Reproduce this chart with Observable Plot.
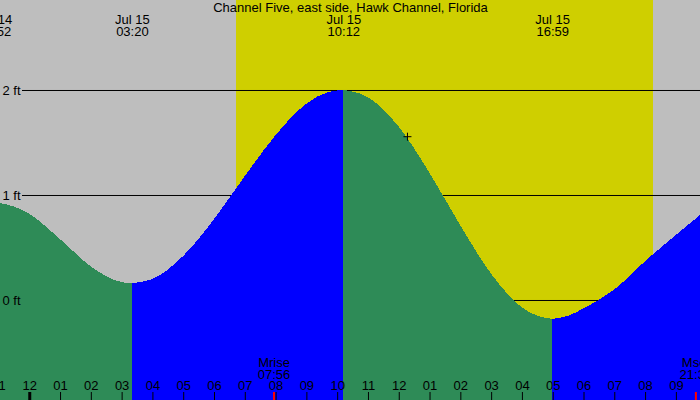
<!DOCTYPE html>
<html>
<head>
<meta charset="utf-8">
<script src="https://cdn.jsdelivr.net/npm/d3@7"></script>
<script src="https://cdn.jsdelivr.net/npm/@observablehq/plot@0.6"></script>
<style>
  html, body { margin: 0; padding: 0; background: #bebebe; }
  #chart svg { display: block; }
</style>
</head>
<body>
<div id="chart"></div>
<script>
// Tide graph for one station, Jul 14 23:03 – Jul 15 21:47
const stationName = "Channel Five, east side, Hawk Channel, Florida";

// High and low water events
const extremeDays = ["Jul 14", "Jul 15", "Jul 15", "Jul 15"];
const extremeTimes = ["22:52", "03:20", "10:12", "16:59"];
const extremeLevels = [0.93, 0.16, 2.0, -0.18];

// Water level (ft) between the events, hours after midnight Jul 15
const sampleHours = [-0.5, 0, 1, 2, 3, 4, 5, 6, 7, 8, 9, 9.7, 10.7, 11, 12, 13, 14, 15, 16, 16.5, 17.5, 18, 19, 20, 21, 22];
const sampleLevels = [0.89, 0.82, 0.58, 0.32, 0.17, 0.20, 0.42, 0.77, 1.18, 1.57, 1.87, 1.98, 1.97, 1.93, 1.65, 1.21, 0.71, 0.25, -0.07, -0.15, -0.15, -0.08, 0.10, 0.37, 0.62, 0.86];

// Sun and moon
const sunrise = "06:43";
const sunset = "20:15";
const moonNames = ["Mrise", "Mset"];
const moonTimes = ["07:56", "21:38"];

// Current time marker
const nowTime = "12:16";
const nowLevel = 1.56;

// Axes
const levelTicks = [0, 1, 2];
const hourTicks = [-1, 0, 1, 2, 3, 4, 5, 6, 7, 8, 9, 10, 11, 12, 13, 14, 15, 16, 17, 18, 19, 20, 21];
const hourLabels = ["11", "12", "01", "02", "03", "04", "05", "06", "07", "08", "09", "10", "11", "12", "01", "02", "03", "04", "05", "06", "07", "08", "09"];
const windowStart = ["Jul 14", "23:03"];
const windowEnd = ["Jul 15", "21:47"];
const levelDomain = [-0.9524, 2.8571];

const colors = {
  background: "#bebebe",
  daylight: "#cfcf00",
  rising: "#0000ff",
  falling: "#2e8b57",
  moon: "#ff0000"
};

// Hours relative to midnight at the start of Jul 15
function hoursOf(day, time) {
  const [h, m] = time.split(":").map(Number);
  return (day === "Jul 14" ? -24 : 0) + h + m / 60;
}

const extremes = extremeDays.map((d, i) => ({
  h: hoursOf(d, extremeTimes[i]),
  level: extremeLevels[i],
  day: d,
  time: extremeTimes[i]
}));
const samples = sampleHours.map((h, i) => ({h, level: sampleLevels[i]}));

// Split the water into rising (flood) and falling (ebb) stretches between extremes
const water = [];
extremes.forEach((a, s) => {
  const b = extremes[s + 1];
  const end = b ? b.h : Infinity;
  const rising = b ? b.level > a.level : a.level < extremes[s - 1].level;
  const fill = rising ? colors.rising : colors.falling;
  water.push({h: a.h, level: a.level, segment: s, water: fill});
  for (const p of samples) if (p.h > a.h && p.h < end) water.push({...p, segment: s, water: fill});
  if (b) water.push({h: b.h, level: b.level, segment: s, water: fill});
});

const hours = hourTicks.map((h, i) => ({h, label: hourLabels[i]}));
const moon = moonNames.map((name, i) => ({name, time: moonTimes[i], h: hoursOf("Jul 15", moonTimes[i])}));
const daylight = [{start: hoursOf("Jul 15", sunrise), end: hoursOf("Jul 15", sunset)}];
const now = [{h: hoursOf("Jul 15", nowTime), level: nowLevel}];

const label = {lineAnchor: "middle"};

const chart = Plot.plot({
  width: 700,
  height: 400,
  margin: 0,
  x: {domain: [hoursOf(...windowStart), hoursOf(...windowEnd)], axis: null},
  y: {domain: levelDomain, axis: null},
  color: {type: "identity"},
  style: {
    background: colors.background,
    fontFamily: "'Liberation Sans', Arial, sans-serif",
    fontSize: "13px",
    color: "black"
  },
  marks: [
    // daylight band
    Plot.rect(daylight, {x1: "start", x2: "end", fill: colors.daylight, shapeRendering: "crispEdges"}),
    // level grid lines (behind the water)
    Plot.ruleY(levelTicks, {y: d => d, stroke: "black", insetLeft: 22}),
    // water
    Plot.areaY(water, {
      x: "h", y1: levelDomain[0], y2: "level", z: "segment", fill: "water",
      curve: "monotone-x", clip: true, shapeRendering: "crispEdges"
    }),
    // level labels
    Plot.text(levelTicks, {...label, y: d => d, text: d => `${d} ft`, frameAnchor: "left", textAnchor: "start", dx: 2, dy: 0.5}),
    // title
    Plot.text([stationName], {...label, text: d => d, frameAnchor: "top", dy: 7.3}),
    // high / low water labels
    Plot.text(extremes, {...label, x: "h", text: "day", frameAnchor: "top", dy: 19.8}),
    Plot.text(extremes, {...label, x: "h", text: "time", frameAnchor: "top", dy: 31.8}),
    // hour ticks and labels
    Plot.ruleX(hours, {x: "h", stroke: "black", strokeWidth: d => d.h % 24 === 0 ? 3 : 1, insetTop: 392}),
    Plot.text(hours, {...label, x: "h", text: "label", frameAnchor: "bottom", dy: -14.2}),
    // moon rise / set
    Plot.ruleX(moon, {x: "h", stroke: colors.moon, strokeWidth: 2, insetTop: 392}),
    Plot.text(moon, {...label, x: "h", text: "name", frameAnchor: "bottom", dy: -37.5}),
    Plot.text(moon, {...label, x: "h", text: "time", frameAnchor: "bottom", dy: -25.9}),
    // current time
    Plot.dot(now, {x: "h", y: "level", symbol: "plus", r: 2.7, stroke: "black", strokeWidth: 1})
  ]
});

document.getElementById("chart").append(chart);
</script>
</body>
</html>
